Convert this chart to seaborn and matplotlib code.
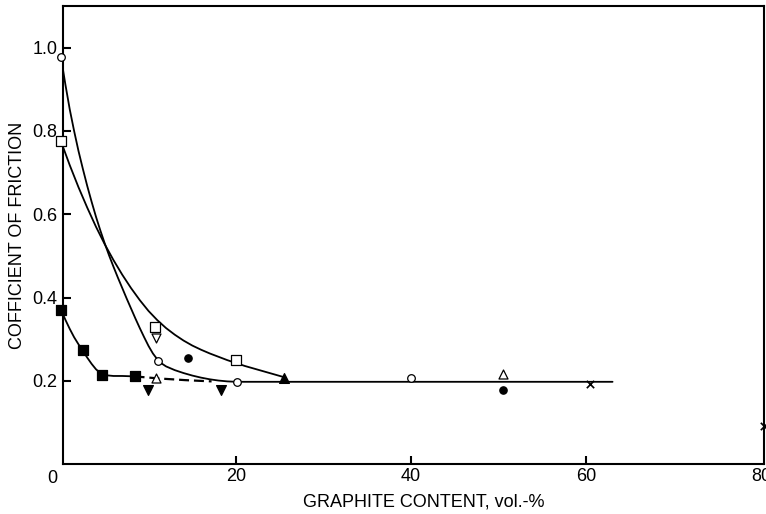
# Coefficient of friction vs graphite content
import matplotlib
matplotlib.use("Agg")
import matplotlib.pyplot as plt
import seaborn as sns

# fitted curves, points
circle_curve_x = [0, 0.5, 1.0, 1.5, 2.0, 2.5, 3.0, 3.5, 4.0, 4.5, 5.0, 5.5, 6.0, 6.5, 7.0, 7.5,
                  8.0, 8.5, 9.0, 9.5, 10.0, 10.5, 11.0, 11.5, 12.0, 13.0, 14.0, 15.0, 16.0, 17.0,
                  18.0, 19.0, 20.0, 63.0]
circle_curve_y = [0.977, 0.912, 0.852, 0.800, 0.752, 0.709, 0.668, 0.630, 0.594, 0.561, 0.530,
                  0.501, 0.474, 0.448, 0.423, 0.398, 0.374, 0.350, 0.327, 0.305, 0.284, 0.266,
                  0.252, 0.242, 0.235, 0.226, 0.219, 0.213, 0.208, 0.204, 0.201, 0.199, 0.198, 0.198]

square_curve_x = [0, 1, 2, 3, 4, 5, 6, 7, 8, 9, 10, 11, 12, 13, 14, 15, 16, 17, 18, 19, 20,
                  21, 22, 23, 24, 25.5]
square_curve_y = [0.775, 0.718, 0.665, 0.616, 0.570, 0.528, 0.490, 0.455, 0.423, 0.394, 0.368,
                  0.346, 0.327, 0.311, 0.297, 0.285, 0.275, 0.266, 0.258, 0.250, 0.243, 0.236,
                  0.230, 0.224, 0.218, 0.209]

fsq_curve_x = [0, 0.5, 1.0, 1.5, 2.0, 2.5, 3.0, 3.5, 4.0, 4.5, 5.0, 5.5, 6.0, 7.0, 8.4]
fsq_curve_y = [0.371, 0.347, 0.325, 0.305, 0.288, 0.272, 0.256, 0.241, 0.228, 0.219, 0.214,
               0.213, 0.212, 0.212, 0.211]

dash_curve_x = [8.4, 11.2, 14.2, 17.2]
dash_curve_y = [0.211, 0.206, 0.202, 0.199]

# measured points, one list per symbol
open_circle_x = [0, 11.1, 20.1, 40]
open_circle_y = [0.977, 0.249, 0.198, 0.206]
open_square_x = [0, 10.7, 20.0]
open_square_y = [0.775, 0.330, 0.250]
open_tri_down_x = [10.9]
open_tri_down_y = [0.303]
open_tri_up_x = [10.8, 50.5]
open_tri_up_y = [0.208, 0.216]
filled_circle_x = [14.5, 50.5]
filled_circle_y = [0.254, 0.178]
filled_tri_up_x = [25.5]
filled_tri_up_y = [0.208]
filled_square_x = [0, 2.5, 4.7, 8.4]
filled_square_y = [0.371, 0.274, 0.214, 0.212]
filled_tri_down_x = [9.9, 18.3]
filled_tri_down_y = [0.178, 0.178]
cross_x = [60.4, 80.3]
cross_y = [0.193, 0.092]

sns.set_style("white")
plt.rcParams['font.family'] = ['Liberation Sans', 'DejaVu Sans']

fig = plt.figure(figsize=(7.66, 5.14), dpi=100)
ax = fig.add_axes([0.0819, 0.0967, 0.9155, 0.8916])

lw = 1.3
for cx, cy in [(circle_curve_x, circle_curve_y), (square_curve_x, square_curve_y), (fsq_curve_x, fsq_curve_y)]:
    sns.lineplot(x=cx, y=cy, sort=False, estimator=None, color='black', lw=lw, ax=ax)
sns.lineplot(x=dash_curve_x, y=dash_curve_y, sort=False, estimator=None, color='black',
             lw=1.6, linestyle=(0, (4.5, 2.2)), ax=ax)

def pts(x, y, marker, s, face):
    sns.scatterplot(x=x, y=y, marker=marker, s=s, color=face, edgecolor='black',
                    linewidth=0.9, zorder=4, clip_on=False, ax=ax)

pts(open_circle_x, open_circle_y, 'o', 30, 'white')
pts(open_square_x, open_square_y, 's', 42, 'white')
pts(open_tri_down_x, open_tri_down_y, 'v', 42, 'white')
pts(open_tri_up_x, open_tri_up_y, '^', 42, 'white')
pts(filled_circle_x, filled_circle_y, 'o', 28, 'black')
pts(filled_tri_up_x, filled_tri_up_y, '^', 50, 'black')
pts(filled_square_x, filled_square_y, 's', 48, 'black')
pts(filled_tri_down_x, filled_tri_down_y, 'v', 50, 'black')
sns.scatterplot(x=cross_x, y=cross_y, marker='x', s=28, color='black', linewidth=1.2,
                zorder=4, clip_on=False, ax=ax)

ax.set_xlim(0.2, 80.3)
ax.set_ylim(0, 1.1)
ax.set_xticks([20, 40, 60, 80])
ax.set_yticks([0.2, 0.4, 0.6, 0.8, 1.0])
ax.set_yticklabels(['0.2', '0.4', '0.6', '0.8', '1.0'])
ax.tick_params(direction='in', length=6, width=1.5, labelsize=13, colors='black',
               bottom=True, left=True, top=False, right=False)
ax.tick_params(axis='x', pad=3)
ax.tick_params(axis='y', pad=4)
# the 80 tick sits on the right frame in the original, only its label shows
ax.xaxis.get_major_ticks()[-1].tick1line.set_visible(False)
for sp in ax.spines.values():
    sp.set_linewidth(1.5)
    sp.set_color('black')

ax.annotate('0', xy=(0, 0), xycoords='axes fraction', xytext=(-10, -14),
            textcoords='offset pixels', ha='center', va='center', fontsize=13, color='black')

ax.set_xlabel('GRAPHITE CONTENT, vol.-%', fontsize=13, va='center', color='black')
ax.xaxis.set_label_coords(0.515, -0.083)
ax.set_ylabel('COFFICIENT OF FRICTION', fontsize=13, va='center', color='black')
ax.yaxis.set_label_coords(-0.064, 0.5)

fig.savefig('out.png', dpi=100)
